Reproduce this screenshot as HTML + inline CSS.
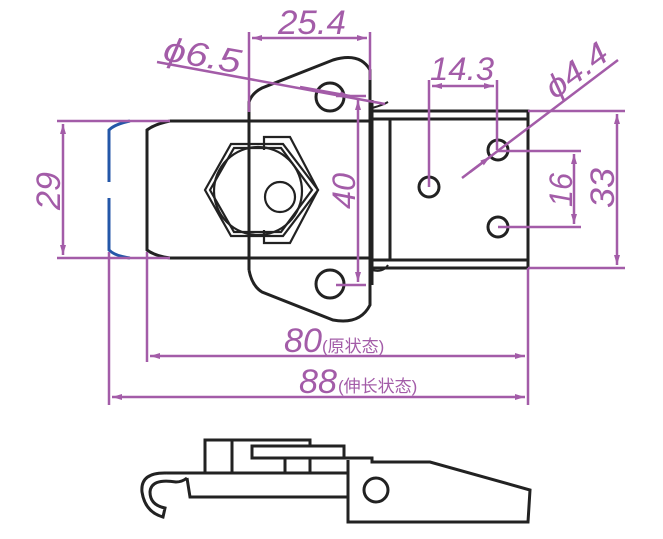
<!DOCTYPE html>
<html><head><style>body{margin:0;background:#fff}svg{display:block}</style></head><body>
<svg width="663" height="539" viewBox="0 0 663 539" xmlns="http://www.w3.org/2000/svg">
<defs>
<marker id="a" viewBox="0 0 10 6" refX="10" refY="3" markerWidth="10" markerHeight="6" orient="auto-start-reverse" markerUnits="userSpaceOnUse"><path d="M0,0L10,3L0,6z" fill="#a35ca8"/></marker>
</defs>
<g fill="none" stroke="#222" stroke-width="3">
<path d="M170,121 Q155,124 147,130 V250 Q155,256 170,258"/>
<line x1="170" y1="121" x2="372" y2="121"/>
<line x1="170" y1="258" x2="372" y2="258"/>
<path d="M249,270 V102 Q252,93 262,88 L333,60 Q360,52 370,70 V305 Q360,325 333,320 L262,292 Q252,286 249,270"/>
<path d="M372,111 H528 V268 H372"/>
<line x1="372" y1="119" x2="528" y2="119"/>
<line x1="372" y1="260" x2="528" y2="260"/>
<line x1="372" y1="100" x2="372" y2="285"/>
<line x1="390" y1="119" x2="390" y2="260"/>
<path d="M372,270 Q383,273 388,265" stroke-width="2"/>
<path d="M372,108 Q383,105 388,102" stroke-width="2"/>
<circle cx="330" cy="97" r="14"/>
<circle cx="330" cy="284" r="14"/>
<circle cx="429" cy="187" r="10"/>
<circle cx="498" cy="150" r="10"/>
<circle cx="498" cy="227" r="10"/>
<g stroke-width="2.2">
<path d="M205,190 L231,144 H283 L318,190 L283,236 H231 Z"/>
<path d="M210,190 L234,148 H281 L312,190 L281,232 H234 Z"/>
<circle cx="258" cy="191" r="44"/>
<path d="M264,150 V137 H290 L318,190 L290,243 H264 V230"/>
<circle cx="280" cy="197" r="15"/>
</g>
</g>
<path d="M130,121 Q115,124 109,130 V182 M109,198 V250 Q115,256 130,258" fill="none" stroke="#2457a8" stroke-width="3"/>
<g fill="none" stroke="#222" stroke-width="3">
<path d="M205,473 V440 H310 V446"/>
<line x1="232" y1="440" x2="232" y2="473"/>
<line x1="285" y1="458" x2="285" y2="473"/>
<line x1="310" y1="458" x2="310" y2="473"/>
<rect x="252" y="446" width="92" height="12"/>
<path d="M167,473 H348 M348,460 V522 H528 L530,490 L430,462 H372 V458 H344"/>
<path d="M187,478 L190,497 H348"/>
<circle cx="376" cy="490" r="12"/>
<path d="M167,473 Q140,472 142,492 Q145,512 163,517 L165,508 Q150,505 150,492 Q151,478 176,482 Q182,482 187,478"/>
</g>
<g stroke="#a35ca8" stroke-width="2.5" fill="none">
<line x1="57" y1="121" x2="170" y2="121"/>
<line x1="57" y1="258" x2="170" y2="258"/>
<line x1="63" y1="124" x2="63" y2="255" marker-start="url(#a)" marker-end="url(#a)"/>
<line x1="109" y1="252" x2="109" y2="405"/>
<line x1="147" y1="252" x2="147" y2="362"/>
<line x1="528" y1="268" x2="528" y2="405"/>
<line x1="150" y1="356" x2="525" y2="356" marker-start="url(#a)" marker-end="url(#a)"/>
<line x1="112" y1="397" x2="525" y2="397" marker-start="url(#a)" marker-end="url(#a)"/>
<line x1="249" y1="32" x2="249" y2="112"/>
<line x1="370" y1="32" x2="370" y2="80"/>
<line x1="252" y1="38" x2="367" y2="38" marker-start="url(#a)" marker-end="url(#a)"/>
<line x1="157" y1="62" x2="385" y2="104"/>
<line x1="300" y1="87" x2="350" y2="96" marker-end="url(#a)"/>
<line x1="336" y1="96" x2="366" y2="96"/>
<line x1="336" y1="285" x2="366" y2="285"/>
<line x1="358" y1="100" x2="358" y2="282" marker-start="url(#a)" marker-end="url(#a)"/>
<line x1="429" y1="80" x2="429" y2="187"/>
<line x1="497" y1="80" x2="497" y2="150"/>
<line x1="432" y1="86" x2="494" y2="86" marker-start="url(#a)" marker-end="url(#a)"/>
<line x1="462" y1="178" x2="618" y2="60"/>
<line x1="470" y1="172" x2="490" y2="157" marker-end="url(#a)"/>
<line x1="498" y1="151" x2="581" y2="151"/>
<line x1="498" y1="227" x2="581" y2="227"/>
<line x1="574" y1="154" x2="574" y2="224" marker-start="url(#a)" marker-end="url(#a)"/>
<line x1="528" y1="111" x2="625" y2="111"/>
<line x1="528" y1="268" x2="625" y2="268"/>
<line x1="617" y1="114" x2="617" y2="265" marker-start="url(#a)" marker-end="url(#a)"/>
</g>
<g fill="#a35ca8" font-family="Liberation Sans, 'Noto Sans CJK SC', sans-serif" font-style="italic">
<text x="278" y="34" font-size="34" textLength="68" lengthAdjust="spacingAndGlyphs">25.4</text>
<text x="162" y="60" font-size="34" textLength="78" lengthAdjust="spacingAndGlyphs" transform="rotate(10 162 60)">ϕ6.5</text>
<text x="430" y="80" font-size="32" textLength="64" lengthAdjust="spacingAndGlyphs">14.3</text>
<text x="555" y="100" font-size="32" textLength="70" lengthAdjust="spacingAndGlyphs" transform="rotate(-37 555 100)">ϕ4.4</text>
<text x="355" y="209" font-size="32" textLength="36" lengthAdjust="spacingAndGlyphs" transform="rotate(-90 355 209)">40</text>
<text x="572" y="207" font-size="32" textLength="34" lengthAdjust="spacingAndGlyphs" transform="rotate(-90 572 207)">16</text>
<text x="614" y="208" font-size="34" textLength="40" lengthAdjust="spacingAndGlyphs" transform="rotate(-90 614 208)">33</text>
<text x="60" y="210" font-size="34" textLength="38" lengthAdjust="spacingAndGlyphs" transform="rotate(-90 60 210)">29</text>
<text x="284" y="352" font-size="34" textLength="38" lengthAdjust="spacingAndGlyphs">80</text>
<text x="299" y="393" font-size="34" textLength="38" lengthAdjust="spacingAndGlyphs">88</text>
<text x="322" y="352" font-size="17" font-style="normal">(原状态)</text>
<text x="338" y="392" font-size="17" font-style="normal">(伸长状态)</text>
</g>
</svg>
</body></html>
